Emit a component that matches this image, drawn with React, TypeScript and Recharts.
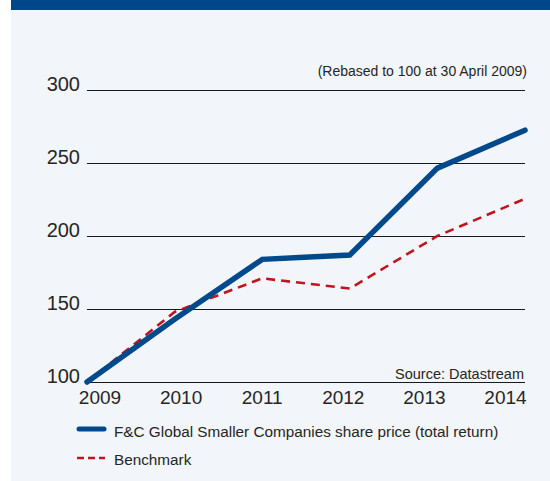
import { LineChart, Line, XAxis, YAxis, CartesianGrid } from 'recharts'

const years = ['2009', '2010', '2011', '2012', '2013', '2014']
const fundValues = [100, 143, 184, 187, 246.5, 272.5]
const benchmarkValues = [100, 148, 171, 164, 200, 225.5]
const yTicks = [100, 150, 200, 250, 300]

const FONT = '"Liberation Sans", Arial, Helvetica, sans-serif'
const TEXT = '#262626'
const BLUE = '#004a8c'
const RED = '#c1141c'

const data = years.map((year, i) => ({
    year,
    fund: fundValues[i],
    benchmark: benchmarkValues[i],
}))

// year labels sit on a slightly tighter spacing than the data points
const XTick = ({ x, y, payload, index }: any) => (
    <text x={x + 13 - 6.5 * index} y={y} dy={16} textAnchor="middle" fontSize={19} fill={TEXT} fontFamily={FONT}>
        {payload.value}
    </text>
)

const YTick = ({ x, y, payload }: any) => (
    <text x={x - 1} y={y} dy={1} textAnchor="end" fontSize={20} fill={TEXT} fontFamily={FONT}>
        {payload.value}
    </text>
)

export default function App() {
    return (
        <div style={{ position: 'absolute', left: 0, top: 0, width: 550, height: 481, background: '#fff', fontFamily: FONT }}>
            <div style={{ position: 'absolute', left: 11, top: 0, width: 539, height: 10, background: '#00468a' }} />
            <div style={{ position: 'absolute', left: 11, top: 10, width: 539, height: 471, background: '#f2f5f9' }} />
            <div style={{ position: 'absolute', left: 0, top: 0 }}>
                <LineChart width={550} height={481} data={data} margin={{ top: 90, right: 25, bottom: 69, left: 37 }}>
                    <CartesianGrid vertical={false} stroke="#1a1a1a" strokeWidth={1} strokeOpacity={1} shapeRendering="crispEdges" />
                    <XAxis dataKey="year" axisLine={false} tickLine={false} tickMargin={0} height={30} tick={XTick} interval={0} />
                    <YAxis domain={[100, 300]} ticks={yTicks} axisLine={false} tickLine={false} tickMargin={0} width={50} tick={YTick} />
                    <Line
                        dataKey="benchmark"
                        stroke={RED}
                        strokeWidth={2.6}
                        strokeDasharray="9 6"
                        dot={false}
                        activeDot={false}
                        isAnimationActive={false}
                    />
                    <Line
                        dataKey="fund"
                        stroke={BLUE}
                        strokeWidth={5.5}
                        strokeLinecap="round"
                        dot={false}
                        activeDot={false}
                        isAnimationActive={false}
                    />
                </LineChart>
            </div>
            <svg width={550} height={481} style={{ position: 'absolute', left: 0, top: 0, pointerEvents: 'none' }}>
                <text x={527} y={76} textAnchor="end" fontSize={14} fill={TEXT} fontFamily={FONT}>
                    (Rebased to 100 at 30 April 2009)
                </text>
                <text x={524} y={379} textAnchor="end" fontSize={14.5} fill={TEXT} fontFamily={FONT}>
                    Source: Datastream
                </text>
                <line x1={79} y1={429} x2={104} y2={429} stroke={BLUE} strokeWidth={5} strokeLinecap="round" />
                <text x={114} y={437} fontSize={15.3} fill={TEXT} fontFamily={FONT}>
                    F&amp;C Global Smaller Companies share price (total return)
                </text>
                <line x1={77} y1={458} x2={105} y2={458} stroke={RED} strokeWidth={2.6} strokeDasharray="7 4" />
                <text x={114} y={465} fontSize={15.3} fill={TEXT} fontFamily={FONT}>
                    Benchmark
                </text>
            </svg>
        </div>
    )
}
